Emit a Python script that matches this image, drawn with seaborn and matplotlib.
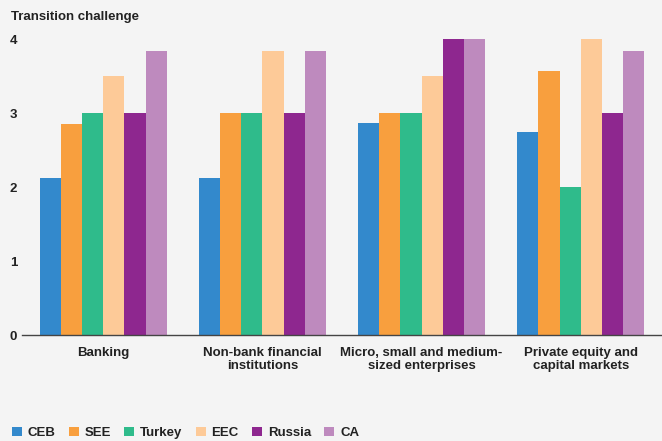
import matplotlib
matplotlib.use("Agg")
import matplotlib.pyplot as plt
import seaborn as sns
import pandas as pd
from matplotlib.patches import Patch

categories = ["Banking", "Non-bank financial\ninstitutions",
              "Micro, small and medium-\nsized enterprises", "Private equity and\ncapital markets"]
regions = ["CEB", "SEE", "Turkey", "EEC", "Russia", "CA"]
ceb = [2.12, 2.12, 2.86, 2.74]
see = [2.85, 3.0, 3.0, 3.57]
turkey = [3.0, 3.0, 3.0, 2.0]
eec = [3.5, 3.84, 3.5, 4.0]
russia = [3.0, 3.0, 4.0, 3.0]
ca = [3.84, 3.84, 4.0, 3.84]
yticks = [0, 1, 2, 3, 4]
colors = ["#3389cc", "#f89f3e", "#2fbb8b", "#fdca98", "#8e278f", "#be8abe"]

series = [ceb, see, turkey, eec, russia, ca]
rows = []
for r, vals in zip(regions, series):
    for c, v in zip(categories, vals):
        rows.append({"category": c, "region": r, "value": v})
df = pd.DataFrame(rows)

sns.set_style("white")
plt.rcParams["font.family"] = ["Liberation Sans", "DejaVu Sans"]
bg = "#f4f4f4"
fig = plt.figure(figsize=(6.62, 4.41), dpi=100, facecolor=bg)
ax = fig.add_axes([22/662, 1-335/441, 1-22/662, (335-39)/441])
ax.set_facecolor(bg)

sns.barplot(data=df, x="category", y="value", hue="region", order=categories,
            hue_order=regions, palette=colors, saturation=1, width=0.8,
            linewidth=0, ax=ax, legend=False)

ax.set_xlim(-0.51, 3.51)
ax.set_ylim(0, 4)
ax.set_yticks(yticks)
ax.set_yticklabels([str(t) for t in yticks], fontweight="bold", fontsize=9.5, color="#222222")
ax.set_xlabel("")
ax.set_ylabel("")
for lab in ax.get_xticklabels():
    lab.set_fontweight("bold")
    lab.set_fontsize(9.5)
    lab.set_color("#222222")
    lab.set_linespacing(1.1)
ax.tick_params(axis="both", length=0)
ax.tick_params(axis="y", pad=3.5)
ax.tick_params(axis="x", pad=8.5)
for s in ["top", "right", "left"]:
    ax.spines[s].set_visible(False)
ax.spines["bottom"].set_color("#444444")
ax.spines["bottom"].set_linewidth(1.0)

fig.text(11/662, 1-17/441, "Transition challenge", fontsize=9.5, fontweight="bold",
         color="#222222", va="center", ha="left")

handles = [Patch(facecolor=c, edgecolor="none", label=r) for c, r in zip(colors, regions)]
leg = fig.legend(handles=handles, loc="center left", bbox_to_anchor=(0/662, 1-433/441),
                 ncol=6, frameon=False, handlelength=0.75, handleheight=0.75,
                 handletextpad=0.45, columnspacing=1.0,
                 prop={"family": ["Liberation Sans", "DejaVu Sans"],
                       "weight": "bold", "size": 9.5})
for t in leg.get_texts():
    t.set_color("#222222")

fig.savefig("out.png", dpi=100, facecolor=bg)
